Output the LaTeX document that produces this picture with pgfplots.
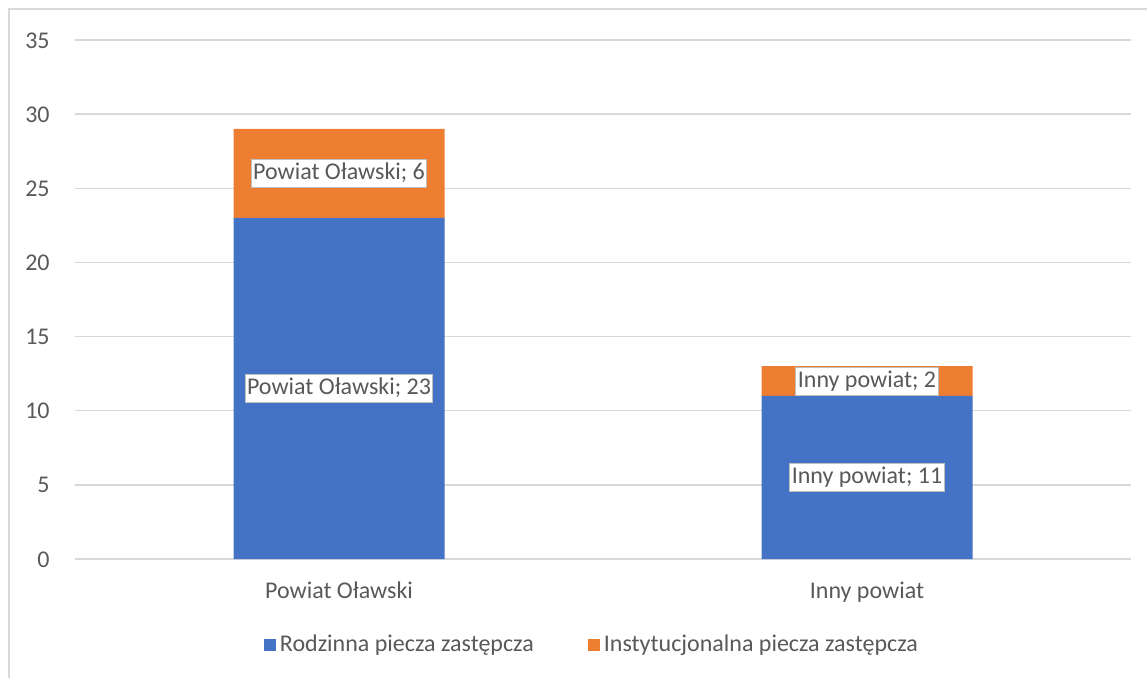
\documentclass[border=0pt]{standalone}
\usepackage{pgfplots}
\pgfplotsset{compat=1.18}
\usepackage{fontspec}
\setmainfont{Carlito}
\definecolor{cblue}{HTML}{4472C4}
\definecolor{corange}{HTML}{ED7D31}
\definecolor{tgray}{HTML}{595959}
\definecolor{ggray}{HTML}{D9D9D9}
\definecolor{bgray}{HTML}{BFBFBF}
\begin{document}
\fontsize{12}{14.4}\selectfont
\begin{tikzpicture}
\useasboundingbox (0,0) rectangle (573.5pt,338.5pt);
\draw[ggray, line width=0.75pt] (4.5pt,-1pt) -- (4.5pt,334pt) -- (574pt,334pt);
\pgfplotsset{base/.style={at={(37.5pt,59pt)}, anchor=south west, scale only axis,
  width=528pt, height=259.5pt, xmin=-0.5, xmax=1.5, ymin=0, ymax=35},
  lab/.style={only marks, mark=*, mark size=0pt, mark options={draw=none, fill=none},
  point meta=explicit, /pgf/number format/assume math mode=true,
  nodes near coords style={anchor=center, fill=white, draw=bgray, line width=0.5pt,
    text=tgray, inner xsep=1pt, inner ysep=0.75pt, text height=9.5pt, text depth=3pt,
    font=\fontsize{12}{14.4}\selectfont}}}
\begin{axis}[base, ybar stacked, bar width=105.5pt,
  ytick={0,5,...,35}, xtick={0,1}, xticklabels={Powiat Oławski, Inny powiat},
  ymajorgrids, major grid style={ggray, line width=0.75pt},
  axis line style={draw=none}, major tick length=0pt,
  ticklabel style={font=\fontsize{12}{14.4}\selectfont, text=tgray, inner sep=0pt},
  yticklabel style={anchor=base east, xshift=-12.5pt, yshift=-4pt},
  xticklabel style={anchor=base, yshift=-19.5pt},
  /pgf/number format/assume math mode=true,
  legend style={draw=none, fill=none, at={(0.4905,-0.1657)}, anchor=center,
    legend columns=2, font=\fontsize{12}{14.4}\selectfont, text=tgray,
    /tikz/every even column/.append style={column sep=25pt}},
  ]
\addplot[fill=cblue, draw=none, legend image code/.code={\fill[cblue] (0pt,-3pt) rectangle (6pt,3pt);}] coordinates {(0,23) (1,11)};
\addplot[fill=corange, draw=none, legend image code/.code={\fill[corange] (0pt,-3pt) rectangle (6pt,3pt);}] coordinates {(0,6) (1,2)};
\legend{Rodzinna piecza zastępcza, Instytucjonalna piecza zastępcza}
\end{axis}
\begin{axis}[base, hide axis]
\addplot[lab, nodes near coords={Powiat Oławski; \pgfmathprintnumber{\pgfplotspointmeta}}]
  coordinates {(0,11.5) [23] (0,26) [6]};
\addplot[lab, nodes near coords={Inny powiat; \pgfmathprintnumber{\pgfplotspointmeta}}]
  coordinates {(1,5.5) [11] (1,12) [2]};
\end{axis}
\end{tikzpicture}
\end{document}
